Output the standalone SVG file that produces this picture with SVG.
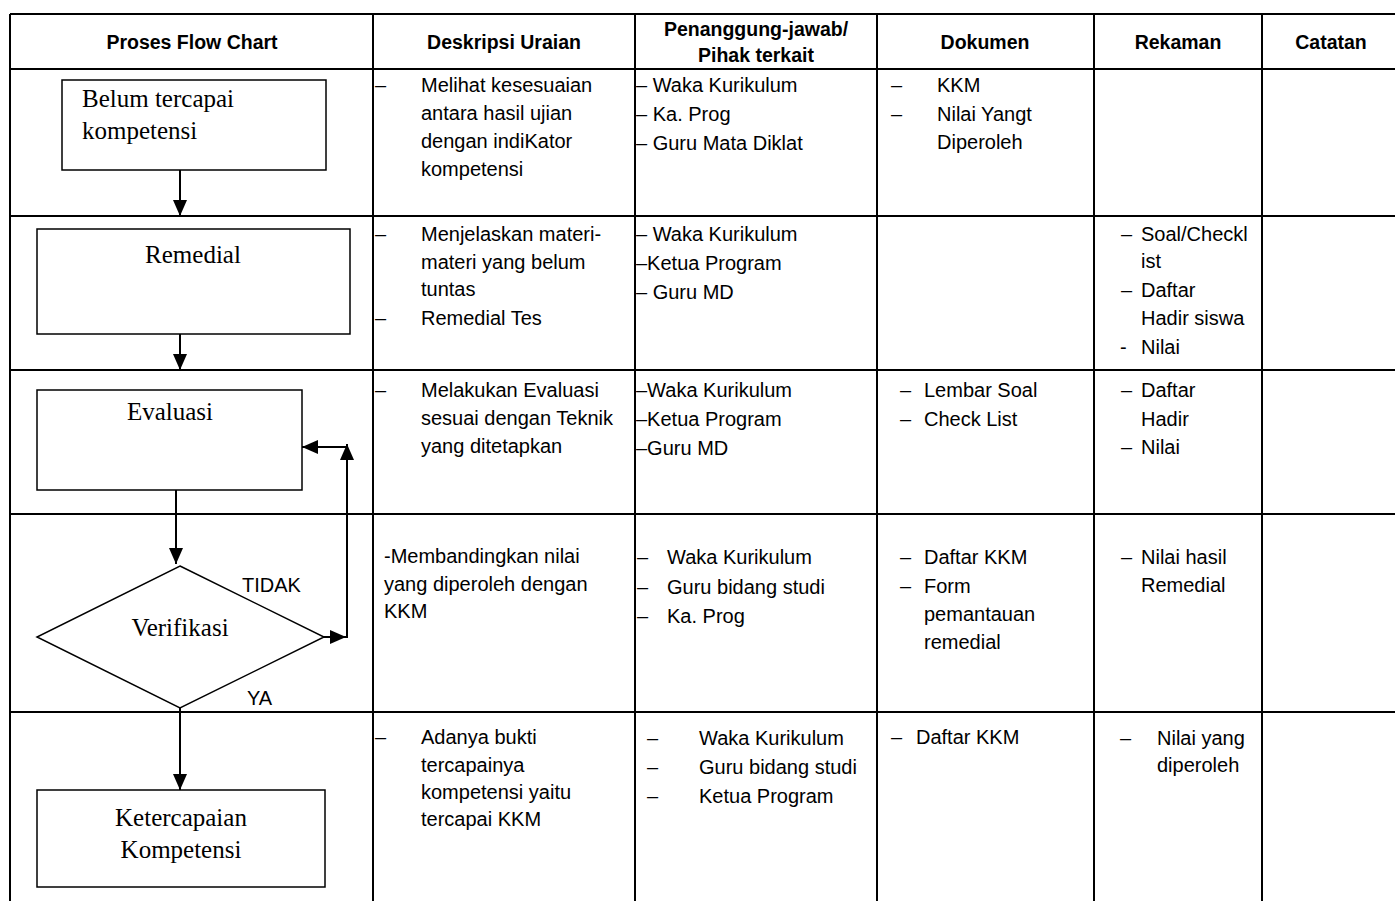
<svg xmlns="http://www.w3.org/2000/svg" width="1395" height="901" viewBox="0 0 1395 901">
<defs>
<style>
.grid{stroke:#000;stroke-width:2;fill:none}
.box{stroke:#000;stroke-width:1.5;fill:#fff}
.con{stroke:#000;stroke-width:2;fill:none}
.hd{font-family:"Liberation Sans",Arial,sans-serif;font-weight:bold;font-size:19.5px;text-anchor:middle;fill:#000}
.t{font-family:"Liberation Sans",Arial,sans-serif;font-size:20px;fill:#000}
.fc{font-family:"Liberation Serif","Times New Roman",serif;font-size:25px;fill:#000}
.fcm{font-family:"Liberation Serif","Times New Roman",serif;font-size:25px;fill:#000;text-anchor:middle}
</style>
<marker id="ah" viewBox="0 0 16 14" refX="16" refY="7" markerWidth="8" markerHeight="7" markerUnits="strokeWidth" orient="auto">
<path d="M0,0 L16,7 L0,14 z" fill="#000"/>
</marker>
</defs>
<rect width="1395" height="901" fill="#fff"/>
<g id="table">
<line class="grid" x1="10" y1="14" x2="1395" y2="14"/>
<line class="grid" x1="10" y1="69" x2="1395" y2="69"/>
<line class="grid" x1="10" y1="216" x2="1395" y2="216"/>
<line class="grid" x1="10" y1="370" x2="1395" y2="370"/>
<line class="grid" x1="10" y1="514" x2="1395" y2="514"/>
<line class="grid" x1="10" y1="712" x2="1395" y2="712"/>
<line class="grid" x1="10" y1="14" x2="10" y2="901"/>
<line class="grid" x1="373" y1="14" x2="373" y2="901"/>
<line class="grid" x1="635" y1="14" x2="635" y2="901"/>
<line class="grid" x1="877" y1="14" x2="877" y2="901"/>
<line class="grid" x1="1094" y1="14" x2="1094" y2="901"/>
<line class="grid" x1="1262" y1="14" x2="1262" y2="901"/>
</g>
<g id="header">
<text class="hd" x="192" y="49">Proses Flow Chart</text>
<text class="hd" x="504" y="49">Deskripsi Uraian</text>
<text class="hd" x="756" y="36">Penanggung-jawab/</text>
<text class="hd" x="756" y="62">Pihak terkait</text>
<text class="hd" x="985" y="49">Dokumen</text>
<text class="hd" x="1178" y="49">Rekaman</text>
<text class="hd" x="1331" y="49">Catatan</text>
</g>
<g id="node-belum">
<rect class="box" x="62" y="80" width="264" height="90"/>
<text class="fc" x="82" y="107">Belum tercapai</text>
<text class="fc" x="82" y="139">kompetensi</text>
</g>
<g id="node-remedial">
<rect class="box" x="37" y="229" width="313" height="105"/>
<text class="fcm" x="193" y="263">Remedial</text>
</g>
<g id="node-evaluasi">
<rect class="box" x="37" y="390" width="265" height="100"/>
<text class="fcm" x="170" y="420">Evaluasi</text>
</g>
<g id="node-verifikasi">
<polygon class="box" points="180,566 324,637 180,708 37,637"/>
<text class="fcm" x="180" y="636">Verifikasi</text>
</g>
<g id="node-ketercapaian">
<rect class="box" x="37" y="790" width="288" height="97"/>
<text class="fcm" x="181" y="826">Ketercapaian</text>
<text class="fcm" x="181" y="858">Kompetensi</text>
</g>
<g id="connectors">
<line class="con" x1="180" y1="170" x2="180" y2="216" marker-end="url(#ah)"/>
<line class="con" x1="180" y1="334" x2="180" y2="370" marker-end="url(#ah)"/>
<line class="con" x1="176" y1="490" x2="176" y2="564" marker-end="url(#ah)"/>
<line class="con" x1="324" y1="637" x2="346" y2="637" marker-end="url(#ah)"/>
<line class="con" x1="347" y1="638" x2="347" y2="444" marker-end="url(#ah)"/>
<line class="con" x1="347" y1="447" x2="302" y2="447" marker-end="url(#ah)"/>
<line class="con" x1="180" y1="708" x2="180" y2="790" marker-end="url(#ah)"/>
<text class="t" x="242" y="592">TIDAK</text>
<text class="t" x="247" y="705">YA</text>
</g>
<g id="row1">
<text class="t" x="375" y="92">–</text>
<text class="t" x="421" y="92">Melihat kesesuaian</text>
<text class="t" x="421" y="120">antara hasil ujian</text>
<text class="t" x="421" y="148">dengan indiKator</text>
<text class="t" x="421" y="176">kompetensi</text>
<text class="t" x="636" y="92">– Waka Kurikulum</text>
<text class="t" x="636" y="121">– Ka. Prog</text>
<text class="t" x="636" y="150">– Guru Mata Diklat</text>
<text class="t" x="891" y="92">–</text>
<text class="t" x="937" y="92">KKM</text>
<text class="t" x="891" y="121">–</text>
<text class="t" x="937" y="121">Nilai Yangt</text>
<text class="t" x="937" y="149">Diperoleh</text>
</g>
<g id="row2">
<text class="t" x="375" y="241">–</text>
<text class="t" x="421" y="241">Menjelaskan materi-</text>
<text class="t" x="421" y="269">materi yang belum</text>
<text class="t" x="421" y="296">tuntas</text>
<text class="t" x="375" y="325">–</text>
<text class="t" x="421" y="325">Remedial Tes</text>
<text class="t" x="636" y="241">– Waka Kurikulum</text>
<text class="t" x="636" y="270">–Ketua Program</text>
<text class="t" x="636" y="299">– Guru MD</text>
<text class="t" x="1121" y="241">–</text>
<text class="t" x="1141" y="241">Soal/Checkl</text>
<text class="t" x="1141" y="268">ist</text>
<text class="t" x="1121" y="297">–</text>
<text class="t" x="1141" y="297">Daftar</text>
<text class="t" x="1141" y="325">Hadir siswa</text>
<text class="t" x="1120" y="354">-</text>
<text class="t" x="1141" y="354">Nilai</text>
</g>
<g id="row3">
<text class="t" x="375" y="397">–</text>
<text class="t" x="421" y="397">Melakukan Evaluasi</text>
<text class="t" x="421" y="425">sesuai dengan Teknik</text>
<text class="t" x="421" y="453">yang ditetapkan</text>
<text class="t" x="636" y="397">–Waka Kurikulum</text>
<text class="t" x="636" y="426">–Ketua Program</text>
<text class="t" x="636" y="455">–Guru MD</text>
<text class="t" x="900" y="397">–</text>
<text class="t" x="924" y="397">Lembar Soal</text>
<text class="t" x="900" y="426">–</text>
<text class="t" x="924" y="426">Check List</text>
<text class="t" x="1121" y="397">–</text>
<text class="t" x="1141" y="397">Daftar</text>
<text class="t" x="1141" y="426">Hadir</text>
<text class="t" x="1121" y="454">–</text>
<text class="t" x="1141" y="454">Nilai</text>
</g>
<g id="row4">
<text class="t" x="384" y="563">-Membandingkan nilai</text>
<text class="t" x="384" y="591">yang diperoleh dengan</text>
<text class="t" x="384" y="618">KKM</text>
<text class="t" x="637" y="564">–</text>
<text class="t" x="667" y="564">Waka Kurikulum</text>
<text class="t" x="637" y="594">–</text>
<text class="t" x="667" y="594">Guru bidang studi</text>
<text class="t" x="637" y="623">–</text>
<text class="t" x="667" y="623">Ka. Prog</text>
<text class="t" x="900" y="564">–</text>
<text class="t" x="924" y="564">Daftar KKM</text>
<text class="t" x="900" y="593">–</text>
<text class="t" x="924" y="593">Form</text>
<text class="t" x="924" y="621">pemantauan</text>
<text class="t" x="924" y="649">remedial</text>
<text class="t" x="1121" y="564">–</text>
<text class="t" x="1141" y="564">Nilai hasil</text>
<text class="t" x="1141" y="592">Remedial</text>
</g>
<g id="row5">
<text class="t" x="375" y="744">–</text>
<text class="t" x="421" y="744">Adanya bukti</text>
<text class="t" x="421" y="772">tercapainya</text>
<text class="t" x="421" y="799">kompetensi yaitu</text>
<text class="t" x="421" y="826">tercapai KKM</text>
<text class="t" x="647" y="745">–</text>
<text class="t" x="699" y="745">Waka Kurikulum</text>
<text class="t" x="647" y="774">–</text>
<text class="t" x="699" y="774">Guru bidang studi</text>
<text class="t" x="647" y="803">–</text>
<text class="t" x="699" y="803">Ketua Program</text>
<text class="t" x="891" y="744">–</text>
<text class="t" x="916" y="744">Daftar KKM</text>
<text class="t" x="1120" y="745">–</text>
<text class="t" x="1157" y="745">Nilai yang</text>
<text class="t" x="1157" y="772">diperoleh</text>
</g>
</svg>
